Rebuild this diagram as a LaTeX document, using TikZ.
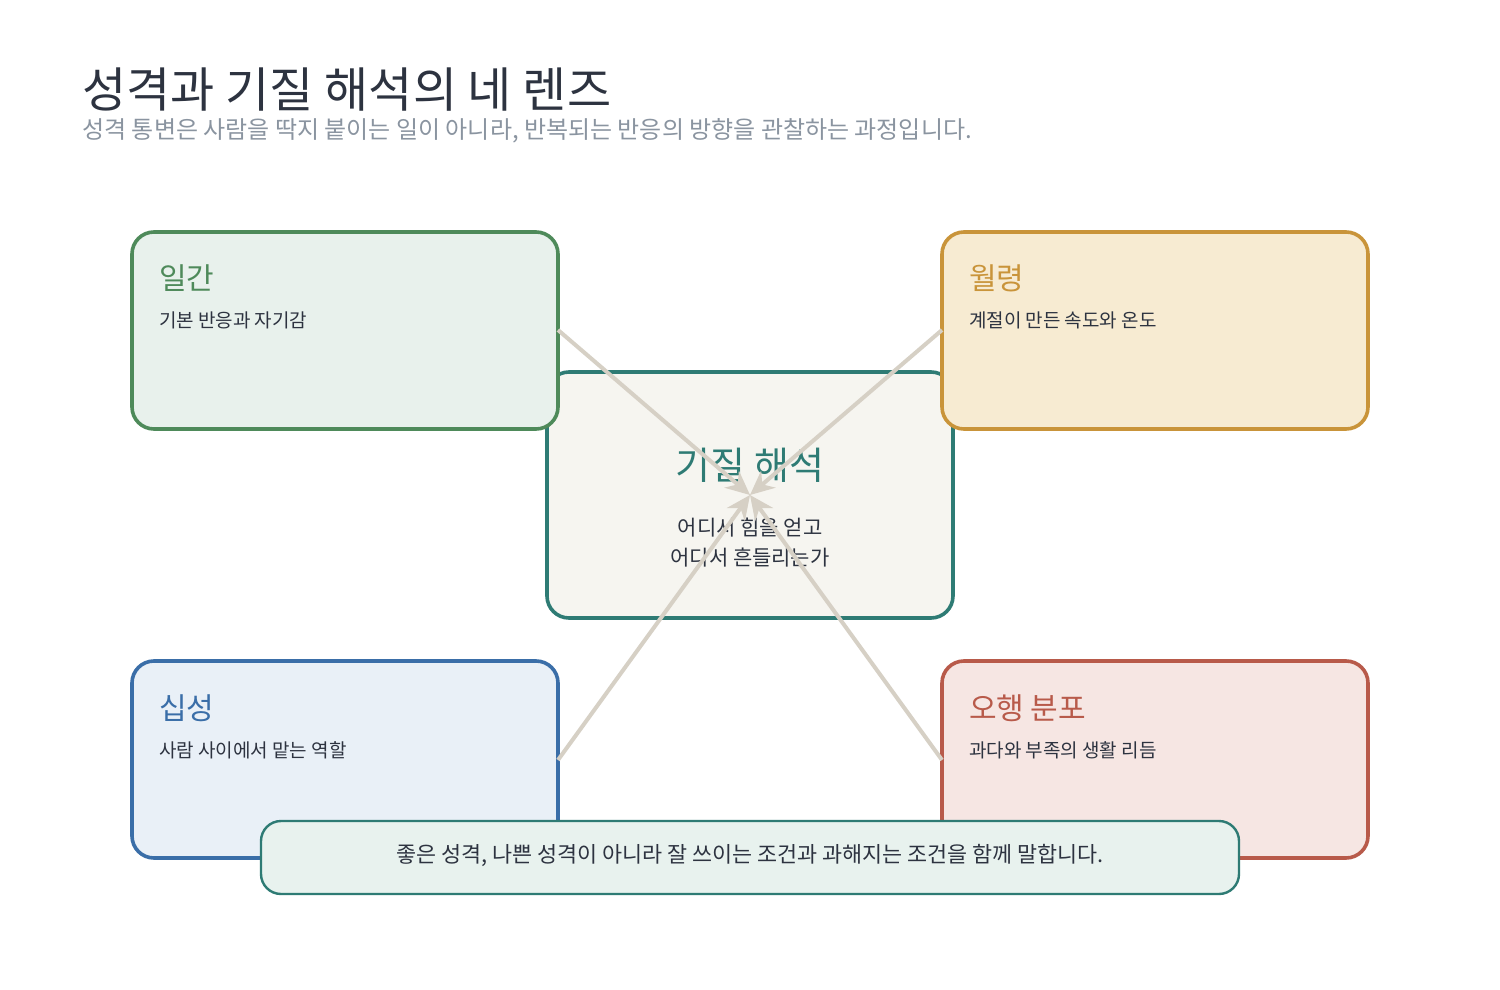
\documentclass[tikz,border=0pt]{standalone}
\usepackage{fontspec}
\setmainfont{Noto Sans CJK KR}
\usetikzlibrary{arrows.meta}
\definecolor{ink}{HTML}{2D3340}
\definecolor{sub}{HTML}{8A94A0}
\definecolor{gA}{HTML}{4E8A5A}\definecolor{gF}{HTML}{E8F1EC}
\definecolor{oA}{HTML}{C9943A}\definecolor{oF}{HTML}{F7EBD2}
\definecolor{tA}{HTML}{2E7B74}\definecolor{tF}{HTML}{F6F5F0}
\definecolor{bA}{HTML}{3A6EA8}\definecolor{bF}{HTML}{E9F0F7}
\definecolor{rA}{HTML}{B85A4A}\definecolor{rF}{HTML}{F6E6E3}
\definecolor{fF}{HTML}{E8F2EE}
\definecolor{arr}{HTML}{D6D0C5}
\begin{document}
\begin{tikzpicture}[x=0.5pt,y=-0.5pt,
  card/.style={draw=#1,line width=1.8pt,rounded corners=11pt},
  ttl/.style={anchor=west,font=\fontsize{15}{18}\selectfont,text=#1},
  sbt/.style={anchor=west,font=\fontsize{9.5}{12}\selectfont,text=ink},
  link/.style={draw=arr,line width=2pt,-{Stealth[length=12pt,width=11pt]}}]
\path[use as bounding box,fill=white] (0,0) rectangle (1500,990);
\node[anchor=west,font=\fontsize{24}{28}\selectfont,text=ink,inner sep=0] (title) at (82,90) {성격과 기질 해석의 네 렌즈};
\node[anchor=west,font=\fontsize{12}{14}\selectfont,text=sub,inner sep=0] (subtitle) at (82,131) {성격 통변은 사람을 딱지 붙이는 일이 아니라, 반복되는 반응의 방향을 관찰하는 과정입니다.};
% center
\path[card=tA,fill=tF] (547,372) rectangle (953,618);
\node[font=\fontsize{19}{22}\selectfont,text=tA] (ctitle) at (750,465) {기질 해석};
\node[font=\fontsize{10.5}{15}\selectfont,text=ink,align=center] (ctext) at (750,543) {어디서 힘을 얻고\\어디서 흔들리는가};
\coordinate (hub) at (750,495);
% cards
\path[card=gA,fill=gF] (132,232) rectangle (558,429);
\node[ttl=gA] (t1) at (152,278) {일간};
\node[sbt] (s1) at (152,320) {기본 반응과 자기감};
\coordinate (e1) at (558,330);
\path[card=oA,fill=oF] (942,232) rectangle (1368,429);
\node[ttl=oA] (t2) at (962,278) {월령};
\node[sbt] (s2) at (962,320) {계절이 만든 속도와 온도};
\coordinate (e2) at (942,330);
\path[card=bA,fill=bF] (132,661) rectangle (558,858);
\node[ttl=bA] (t3) at (152,708) {십성};
\node[sbt] (s3) at (152,750) {사람 사이에서 맡는 역할};
\coordinate (e3) at (558,760);
\path[card=rA,fill=rF] (942,661) rectangle (1368,858);
\node[ttl=rA] (t4) at (962,708) {오행 분포};
\node[sbt] (s4) at (962,750) {과다와 부족의 생활 리듬};
\coordinate (e4) at (942,760);
% arrows
\draw[link] (e1) -- (hub);
\draw[link] (e2) -- (hub);
\draw[link] (e3) -- (hub);
\draw[link] (e4) -- (hub);
% footer
\path[draw=tA,line width=1.2pt,rounded corners=10pt,fill=fF] (261,821) rectangle (1239,894);
\node[font=\fontsize{10.9}{13}\selectfont,text=ink] (foot) at (750,855) {좋은 성격, 나쁜 성격이 아니라 잘 쓰이는 조건과 과해지는 조건을 함께 말합니다.};
\end{tikzpicture}
\end{document}
